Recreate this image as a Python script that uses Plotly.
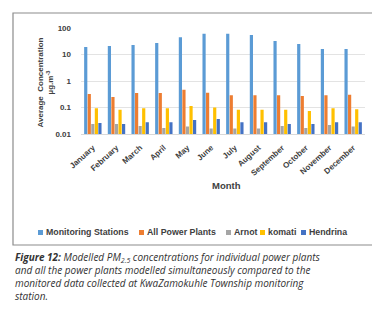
import plotly.graph_objects as go

months = ["January", "February", "March", "April", "May", "June", "July",
          "August", "September", "October", "November", "December"]
monitoring = [19, 21, 23, 27, 45, 61, 61, 55, 32, 25, 16, 16]
all_plants = [0.32, 0.25, 0.35, 0.35, 0.47, 0.36, 0.29, 0.29, 0.29, 0.27, 0.29, 0.30]
arnot = [0.024, 0.024, 0.020, 0.017, 0.019, 0.016, 0.016, 0.016, 0.020, 0.017, 0.022, 0.019]
komati = [0.094, 0.082, 0.094, 0.094, 0.115, 0.100, 0.082, 0.082, 0.082, 0.074, 0.094, 0.085]
hendrina = [0.026, 0.024, 0.028, 0.028, 0.034, 0.037, 0.028, 0.028, 0.024, 0.024, 0.028, 0.028]

ytick_vals = [0.01, 0.1, 1, 10, 100]
ytick_text = ["0.01", "0.1", "1", "10", "100"]

series_names = ["Monitoring Stations", "All Power Plants", "Arnot", "komati", "Hendrina"]
series_values = [monitoring, all_plants, arnot, komati, hendrina]
series_colors = ["#5B9BD5", "#ED7D31", "#A5A5A5", "#FFC000", "#4472C4"]
legend_text_x = [36, 137, 224, 258, 299]  # pixel positions of legend labels

fig = go.Figure()
for name, vals, col in zip(series_names, series_values, series_colors):
    fig.add_trace(go.Bar(x=months, y=vals, name=name, showlegend=False,
                         marker=dict(color=col, line=dict(width=0))))

L, R, T, B = 73, 23, 20, 183
W, H = 380, 309
pw, ph = W - L - R, H - T - B

def px(x):
    return (x - L) / pw

def py(y):
    return (H - B - y) / ph

font_main = "Liberation Sans, Arial, sans-serif"
txt_col = "#404040"

shapes = [dict(type="rect", xref="paper", yref="paper",
               x0=px(5), x1=px(368), y0=py(237), y1=py(5),
               line=dict(color="#8c8c8c", width=1.2), fillcolor="rgba(0,0,0,0)", layer="below")]
annotations = [
    dict(text="Month", xref="paper", yref="paper", x=px(218), y=py(185),
         showarrow=False, font=dict(size=9.5, weight="bold", color=txt_col)),
    dict(text="Average  Concentration<br>µg.m<sup>-3</sup>", xref="paper", yref="paper",
         x=px(25), y=py(75), textangle=-90, showarrow=False,
         font=dict(size=8, weight="bold", color=txt_col)),
    dict(text="<b>Figure 12:</b> Modelled PM<sub>2.5</sub> concentrations for individual power plants<br>"
              "and all the power plants modelled simultaneously compared to the<br>"
              "monitored data collected at KwaZamokuhle Township monitoring<br>"
              "station.",
         xref="paper", yref="paper", x=px(5), y=py(240), xanchor="left", yanchor="top",
         align="left", showarrow=False,
         font=dict(size=10, family="Open Sans, sans-serif", style="italic", color="#333333")),
]

# legend keys (small squares + labels)
ly = 224.5
for name, col, tx in zip(series_names, series_colors, legend_text_x):
    shapes.append(dict(type="rect", xref="paper", yref="paper",
                       x0=px(tx - 6), x1=px(tx - 1), y0=py(ly + 2.5), y1=py(ly - 2.5),
                       line=dict(width=0), fillcolor=col))
    annotations.append(dict(text=name, xref="paper", yref="paper", x=px(tx), y=py(ly),
                            xanchor="left", yanchor="middle", showarrow=False,
                            font=dict(size=8.8, weight="bold", color=txt_col)))

fig.update_layout(
    width=W, height=H,
    margin=dict(l=L, r=R, t=T, b=B),
    paper_bgcolor="white", plot_bgcolor="white",
    barmode="group", bargap=0.25, bargroupgap=0.1,
    font=dict(family=font_main, color=txt_col),
    showlegend=False,
    xaxis=dict(tickangle=-42, tickfont=dict(size=8, weight="bold", color=txt_col),
               showgrid=False, showline=True, linecolor="#d9d9d9", ticks="",
               ticklabelstandoff=5),
    yaxis=dict(type="log", range=[-2, 2], tickvals=ytick_vals, ticktext=ytick_text,
               tickfont=dict(size=8, weight="bold", color=txt_col),
               showgrid=True, gridcolor="#e3e3e3", gridwidth=1, zeroline=False,
               ticks="", ticklabelstandoff=9),
    shapes=shapes,
    annotations=annotations,
)

fig.write_html("out.html")
